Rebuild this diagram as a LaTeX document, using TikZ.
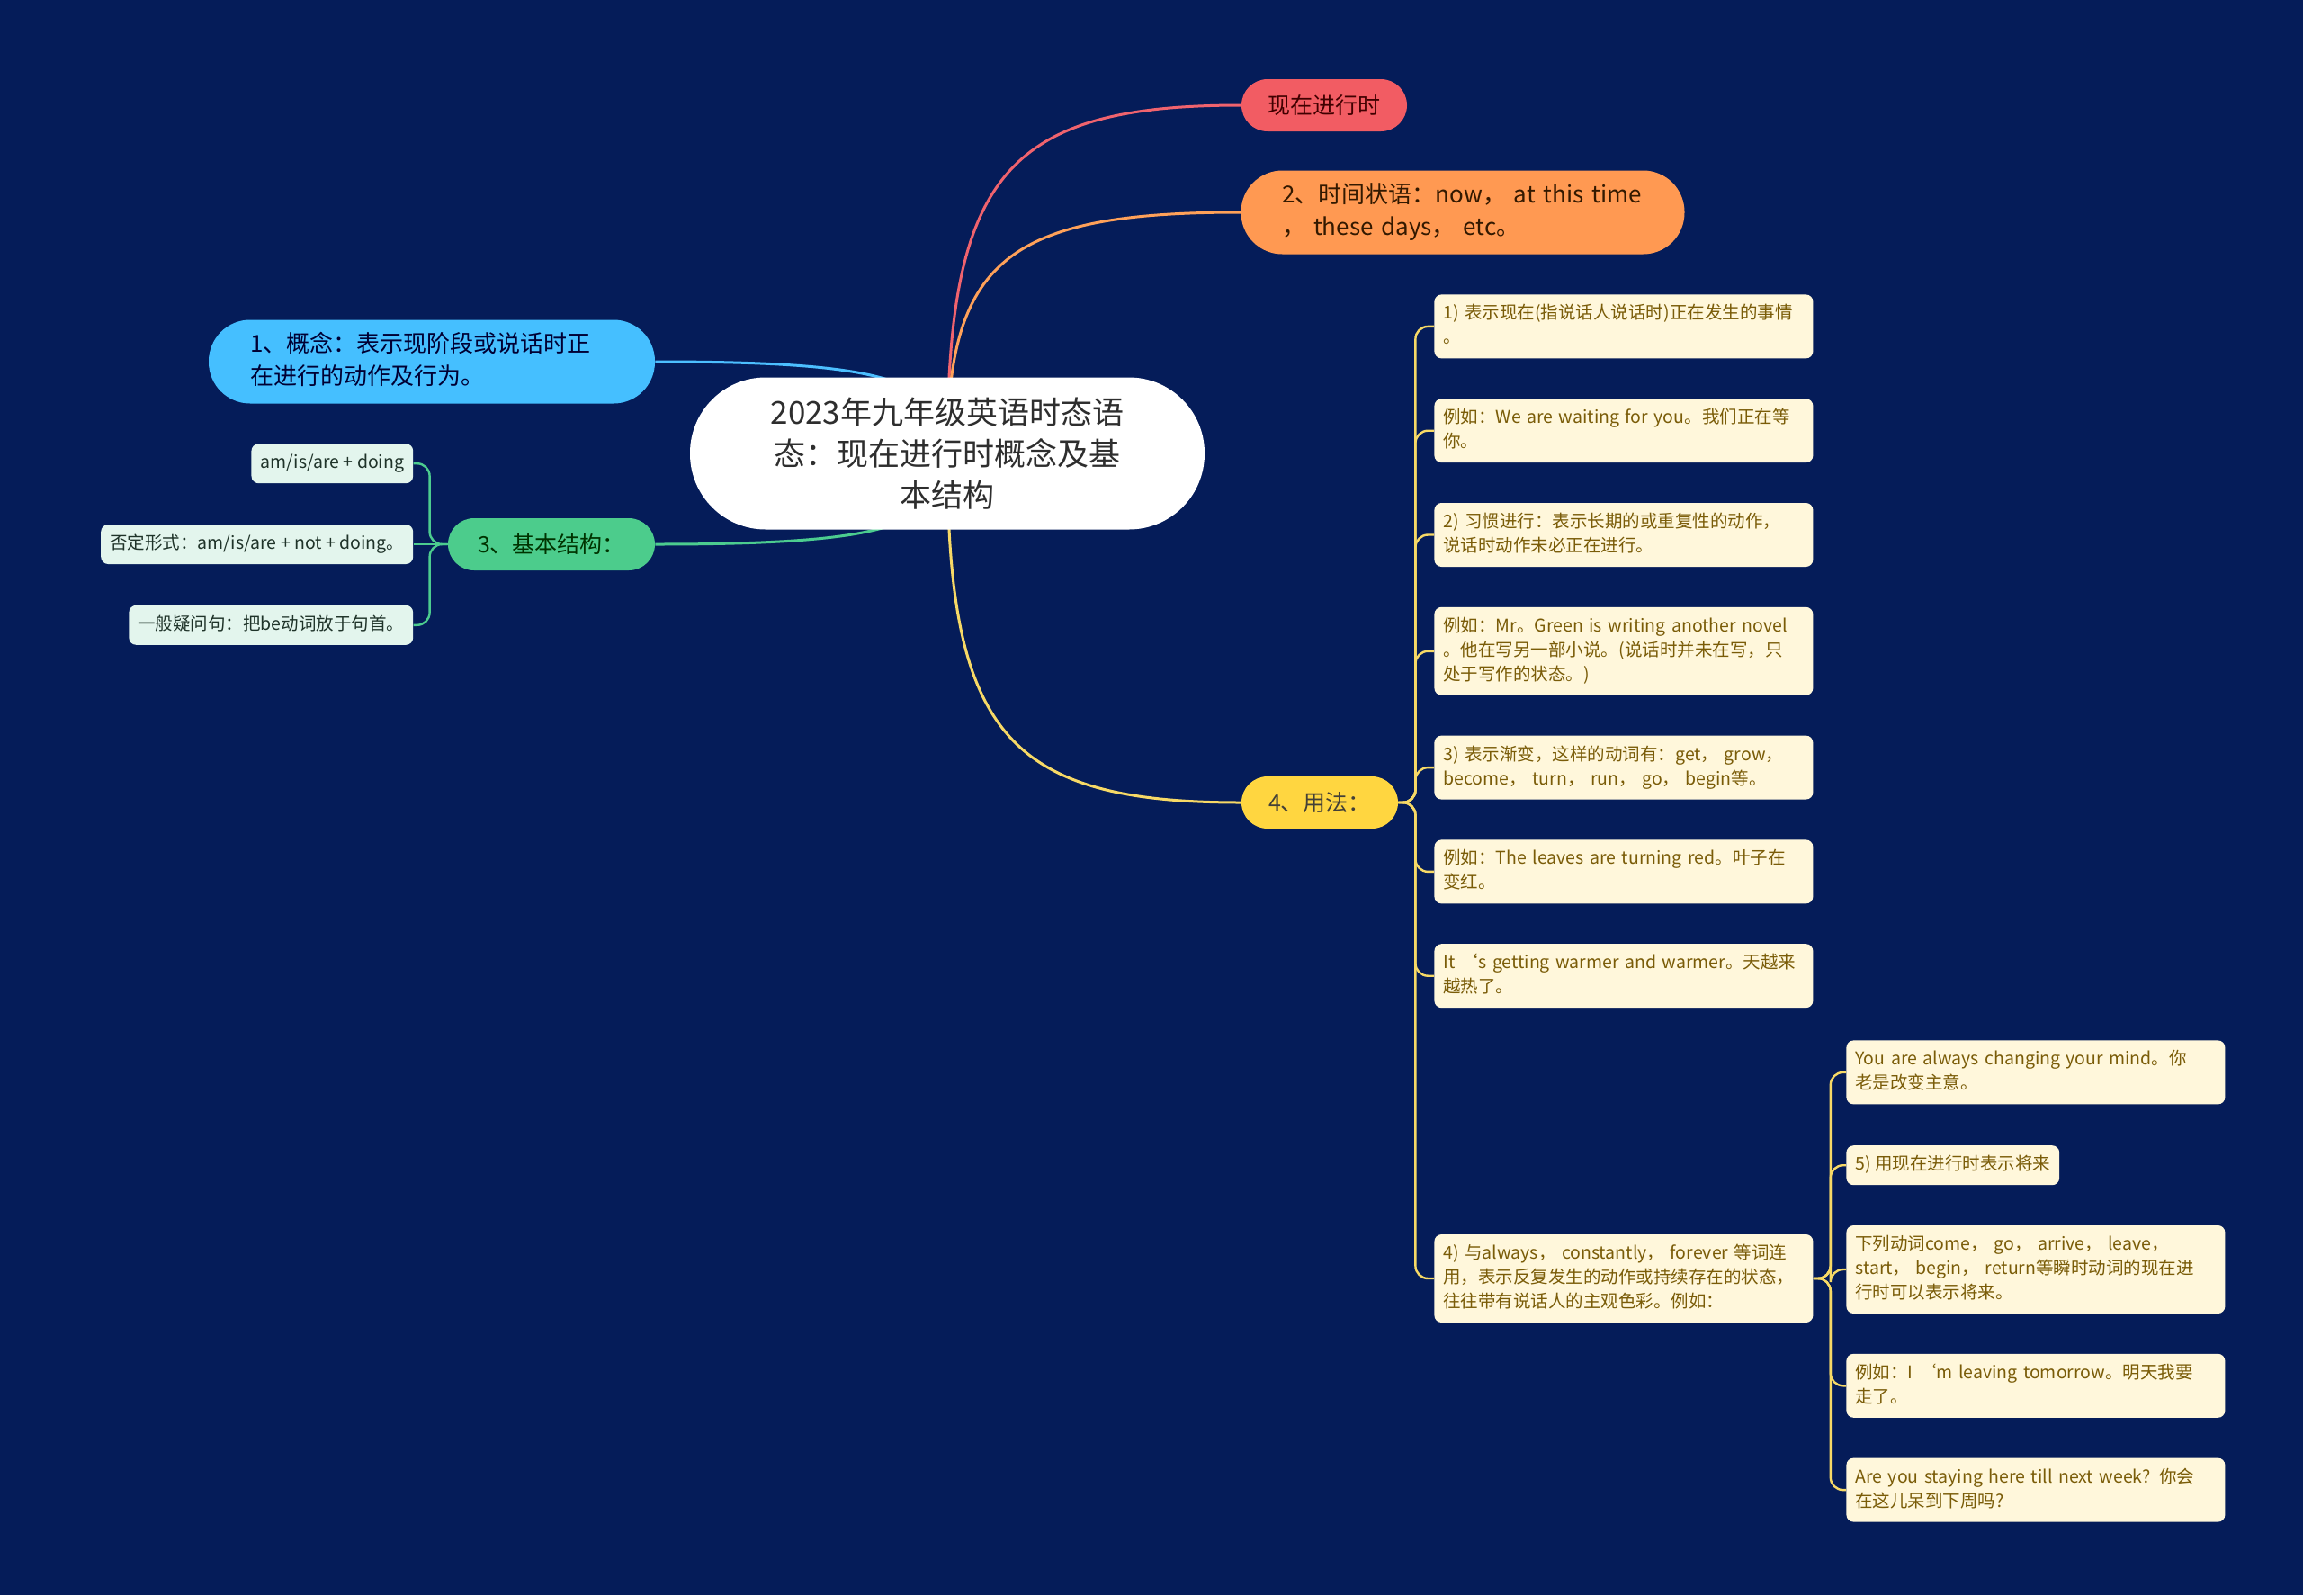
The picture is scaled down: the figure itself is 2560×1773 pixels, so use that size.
\documentclass[tikz,border=0pt]{standalone}
\usepackage{fontspec}
\setmainfont{Noto Sans CJK SC}
\usepackage{xcolor}
\usepackage{tikz}
\usetikzlibrary{positioning,calc,backgrounds}
\definecolor{bgnavy}{rgb}{0.02,0.11,0.35}
\definecolor{pillred}{rgb}{0.95,0.36,0.39}
\definecolor{pillorange}{rgb}{1.00,0.60,0.32}
\definecolor{pillblue}{rgb}{0.27,0.75,1.00}
\definecolor{pillgreen}{rgb}{0.30,0.80,0.55}
\definecolor{pillyellow}{rgb}{1.00,0.84,0.25}
\definecolor{leafmint}{rgb}{0.89,0.96,0.93}
\definecolor{leafcream}{rgb}{1.00,0.97,0.86}
\definecolor{leafbrown}{rgb}{0.48,0.36,0.03}
\definecolor{leafdark}{rgb}{0.12,0.20,0.16}
\definecolor{linered}{rgb}{0.94,0.39,0.43}
\definecolor{lineorange}{rgb}{1.00,0.63,0.35}
\definecolor{lineblue}{rgb}{0.30,0.75,1.00}
\definecolor{linegreen}{rgb}{0.30,0.80,0.56}
\definecolor{lineyellow}{rgb}{0.97,0.85,0.40}

\begin{document}
\begin{tikzpicture}[
  x=0.5pt, y=-0.5pt,
  topic/.style={rectangle, fill=white, text=black!82, rounded corners=42pt,
                minimum width=286pt, minimum height=84.5pt, text width=210pt, align=center,
                font=\fontsize{17.5pt}{23pt}\selectfont},
  pill/.style={rectangle, inner sep=0pt, minimum height=29pt, rounded corners=14.5pt,
               font=\fontsize{12.5pt}{18pt}\selectfont},
  widepill/.style={pill, inner xsep=23pt, inner ysep=5.25pt, rounded corners=23pt, align=left,
                   font=\fontsize{13pt}{18pt}\selectfont,
                   execute at begin node=\strut, execute at end node=\strut},
  leaf/.style={rectangle, rounded corners=4pt, inner xsep=5pt, inner ysep=4.25pt,
               font=\fontsize{9.75pt}{13.5pt}\selectfont,
               execute at begin node=\strut, execute at end node=\strut},
  mintleaf/.style={leaf, fill=leafmint, text=leafdark},
  creamleaf/.style={leaf, fill=leafcream, text=leafbrown},
  wide/.style={text width=200.5pt, align=left},
  link/.style={line width=1.5pt, to path={.. controls ($(\tikztostart)!0.8!(\tikztostart|-\tikztotarget)$)
               and ($(\tikztostart|-\tikztotarget)!0.2!(\tikztotarget)$) .. (\tikztotarget)}},
  twig/.style={line width=1.2pt, rounded corners=7pt},
]
% centre topic and first-level branches
\node[topic] (root) at (1053,504) {2023年九年级英语时态语\\态：现在进行时概念及基\\本结构};
\node[pill, fill=pillred, text=black!75!red, minimum width=92pt] (now) at (1472,117) {现在进行时};
\node[widepill, fill=pillorange, text=black!80!orange, text width=200.5pt] (adv) at (1626,236)
  {2、时间状语：now， at this time\\， these days， etc。};
\node[widepill, fill=pillblue, text=black!80!blue, text width=202pt] (idea) at (480,402)
  {1、概念：表示现阶段或说话时正\\在进行的动作及行为。};
\node[pill, fill=pillgreen, text=black!80!green, minimum width=115pt] (form) at (613,605) {3、基本结构：};
\node[pill, fill=pillyellow, text=black!85!yellow, minimum width=87pt] (use) at (1467,892) {4、用法：};

% 3、基本结构
\node[mintleaf, left=19pt of form] (neg) {否定形式：am/is/are + not + doing。};
\node[mintleaf, above=22.5pt of neg.north east, anchor=south east] (pos) {am/is/are + doing};
\node[mintleaf, below=22.5pt of neg.south east, anchor=north east] (ask) {一般疑问句：把be动词放于句首。};

% 4、用法
\node[creamleaf, wide, anchor=north west] (u1) at (1594,327) {1) 表示现在(指说话人说话时)正在发生的事情\\。};
\node[creamleaf, wide, below=22pt of u1.south west, anchor=north west] (u2) {例如：We are waiting for you。我们正在等\\你。};
\node[creamleaf, wide, below=22pt of u2.south west, anchor=north west] (u3) {2) 习惯进行：表示长期的或重复性的动作，\\说话时动作未必正在进行。};
\node[creamleaf, wide, below=22pt of u3.south west, anchor=north west] (u4) {例如：Mr。Green is writing another novel\\。他在写另一部小说。(说话时并未在写，只\\处于写作的状态。)};
\node[creamleaf, wide, below=22pt of u4.south west, anchor=north west] (u5) {3) 表示渐变，这样的动词有：get， grow，\\become， turn， run， go， begin等。};
\node[creamleaf, wide, below=22pt of u5.south west, anchor=north west] (u6) {例如：The leaves are turning red。叶子在\\变红。};
\node[creamleaf, wide, below=22pt of u6.south west, anchor=north west] (u7) {It ‘s getting warmer and warmer。天越来\\越热了。};
\node[creamleaf, wide, anchor=west] (u8) at (1594,1421) {4) 与always， constantly， forever 等词连\\用，表示反复发生的动作或持续存在的状态，\\往往带有说话人的主观色彩。例如：};

% 4) 与always ...
\node[creamleaf, wide, anchor=north west] (v1) at (2052,1156) {You are always changing your mind。你\\老是改变主意。};
\node[creamleaf, below=22.5pt of v1.south west, anchor=north west] (v2) {5) 用现在进行时表示将来};
\node[creamleaf, wide, below=22pt of v2.south west, anchor=north west] (v3) {下列动词come， go， arrive， leave，\\start， begin， return等瞬时动词的现在进\\行时可以表示将来。};
\node[creamleaf, wide, below=22pt of v3.south west, anchor=north west] (v4) {例如：I ‘m leaving tomorrow。明天我要\\走了。};
\node[creamleaf, wide, below=22pt of v4.south west, anchor=north west] (v5) {Are you staying here till next week? 你会\\在这儿呆到下周吗?};

\coordinate[left=10pt of form.west] (fj);
\coordinate[right=9.5pt of use.east] (uj);
\coordinate[right=9.5pt of u8.east] (vj);

\begin{scope}[on background layer]
  \fill[bgnavy] (0,0) rectangle (2560,1773);
  \draw[link, linered] (root.center) to (now.west);
  \draw[link, lineorange] (root.center) to (adv.west);
  \draw[link, lineblue] (root.center) to (idea.east);
  \draw[link, linegreen] (root.center) to (form.east);
  \draw[link, lineyellow] (root.center) to (use.west);
  \draw[twig, linegreen] (form.west) -- (fj) |- (pos.east);
  \draw[twig, linegreen] (form.west) -- (neg.east);
  \draw[twig, linegreen] (form.west) -- (fj) |- (ask.east);
  \draw[twig, lineyellow] (use.east) -- (uj) |- (u1.west);
  \draw[twig, lineyellow] (use.east) -- (uj) |- (u2.west);
  \draw[twig, lineyellow] (use.east) -- (uj) |- (u3.west);
  \draw[twig, lineyellow] (use.east) -- (uj) |- (u4.west);
  \draw[twig, lineyellow] (use.east) -- (uj) |- (u5.west);
  \draw[twig, lineyellow] (use.east) -- (uj) |- (u6.west);
  \draw[twig, lineyellow] (use.east) -- (uj) |- (u7.west);
  \draw[twig, lineyellow] (use.east) -- (uj) |- (u8.west);
  \draw[twig, lineyellow] (u8.east) -- (vj) |- (v1.west);
  \draw[twig, lineyellow] (u8.east) -- (vj) |- (v2.west);
  \draw[twig, lineyellow] (u8.east) -- (vj) |- (v3.west);
  \draw[twig, lineyellow] (u8.east) -- (vj) |- (v4.west);
  \draw[twig, lineyellow] (u8.east) -- (vj) |- (v5.west);
\end{scope}
\end{tikzpicture}
\end{document}
